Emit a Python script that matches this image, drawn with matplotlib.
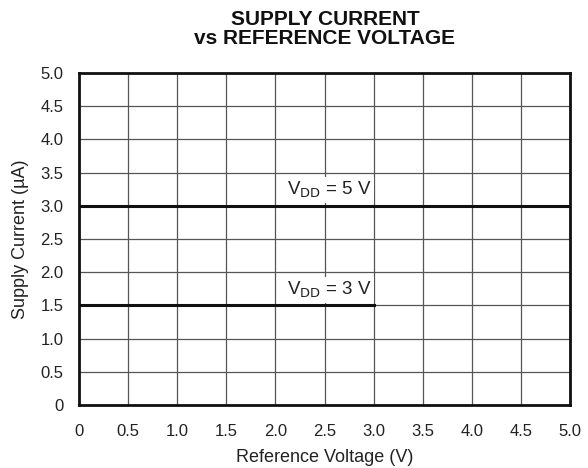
import matplotlib
matplotlib.use("Agg")
import matplotlib.pyplot as plt

plt.rcParams['font.family'] = ['Liberation Sans', 'DejaVu Sans']

x_5v = [0.0, 5.0]
y_5v = [3.0, 3.0]
x_3v = [0.0, 3.0]
y_3v = [1.5, 1.5]
xticks = [0, 0.5, 1.0, 1.5, 2.0, 2.5, 3.0, 3.5, 4.0, 4.5, 5.0]
xlabels = ['0', '0.5', '1.0', '1.5', '2.0', '2.5', '3.0', '3.5', '4.0', '4.5', '5.0']
yticks = [0, 0.5, 1.0, 1.5, 2.0, 2.5, 3.0, 3.5, 4.0, 4.5, 5.0]
ylabels = ['0', '0.5', '1.0', '1.5', '2.0', '2.5', '3.0', '3.5', '4.0', '4.5', '5.0']

fig = plt.figure(figsize=(5.88, 4.68), dpi=100)
ax = fig.add_axes([79/588, 1-405/468, (570-79)/588, (405-73)/468])
ax.set_xlim(0, 5)
ax.set_ylim(0, 5)
ax.set_xticks(xticks)
ax.set_xticklabels(xlabels)
ax.set_yticks(yticks)
ax.set_yticklabels(ylabels)
ax.tick_params(length=0, labelsize=12, colors='#222222')
ax.tick_params(axis='y', pad=11)
ax.tick_params(axis='x', pad=14)
ax.grid(True, color='#555555', linewidth=0.9)
ax.set_axisbelow(True)
for s in ax.spines.values():
    s.set_linewidth(2.0)
    s.set_color('#111111')

ax.plot(x_5v, y_5v, color='#111111', linewidth=2.2, zorder=3)
ax.plot(x_3v, y_3v, color='#111111', linewidth=2.2, zorder=3)

bbox = dict(facecolor='white', edgecolor='none', pad=2)
ax.text(2.98, 3.16, r'V$_{\mathrm{DD}}$ = 5 V', ha='right', va='baseline', fontsize=13.5,
        color='#222222', bbox=bbox, zorder=4)
ax.text(2.98, 1.66, r'V$_{\mathrm{DD}}$ = 3 V', ha='right', va='baseline', fontsize=13.5,
        color='#222222', bbox=bbox, zorder=4)

ax.set_xlabel('Reference Voltage (V)', fontsize=13, color='#222222', labelpad=7)
ax.set_ylabel('Supply Current (\u00b5A)', fontsize=13, color='#222222', labelpad=8)
fig.text(325/588, 1-29/468, 'SUPPLY CURRENT\nvs REFERENCE VOLTAGE', ha='center', va='center',
         fontsize=15, fontweight='bold', color='#111111', linespacing=1.0)

fig.savefig('out.png', dpi=100, facecolor='white')
